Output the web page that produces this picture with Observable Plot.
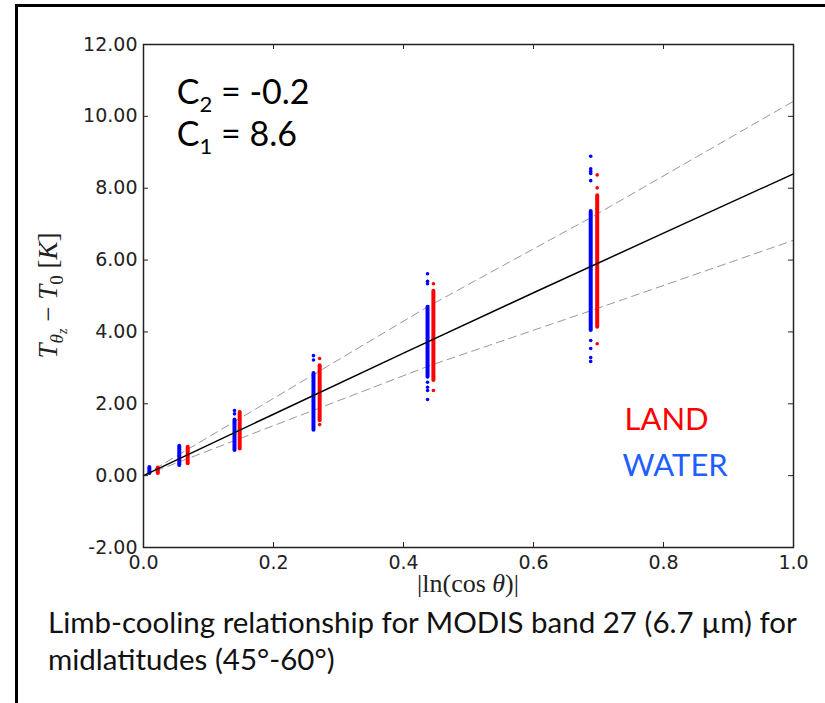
<!DOCTYPE html>
<html>
<head>
<meta charset="utf-8">
<script src="https://cdn.jsdelivr.net/npm/d3@7"></script>
<script src="https://cdn.jsdelivr.net/npm/@observablehq/plot@0.6"></script>
<style>
  html, body { margin: 0; padding: 0; background: #fff; }
  #wrap { position: relative; width: 825px; height: 703px; overflow: hidden; background: #fff; }
  #border { position: absolute; left: 15px; top: 4px; width: 1000px; height: 1000px; border-left: 3px solid #000; border-top: 3px solid #000; }
  #chart { position: absolute; left: 0; top: 0; }
  #caption { position: absolute; left: 48px; top: 603px; font-family: Lato, "Open Sans", sans-serif; font-size: 29.5px; line-height: 37px; color: #111; white-space: nowrap; }
</style>
</head>
<body>
<div id="wrap">
  <div id="border"></div>
  <div id="chart"></div>
  <div id="caption">Limb-cooling relationship for MODIS band 27 (6.7 µm) for<br>midlatitudes (45°-60°)</div>
</div>
<script>
// Tick values
const xTicks = [0.0, 0.2, 0.4, 0.6, 0.8, 1.0];
const yTicks = [-2, 0, 2, 4, 6, 8, 10, 12];

// Fit line (solid) read points
const fitX = [0, 0.2, 0.4, 0.6, 0.8, 1.0];
const fitY = [0, 1.71, 3.41, 5.09, 6.75, 8.4];
// Upper / lower dashed envelope read points
const upperX = [0, 0.44, 0.688, 1.0];
const upperY = [0, 4.73, 7.18, 10.42];
const lowerX = [0, 0.44, 0.688, 1.0];
const lowerY = [0, 3.06, 4.59, 6.55];

// WATER clusters: x, dense core low/high
const waterX  = [0.009, 0.055, 0.140, 0.2615, 0.437, 0.688];
const waterLo = [0.06, 0.28, 0.70, 1.26, 2.74, 4.04];
const waterHi = [0.23, 0.82, 1.55, 2.84, 4.69, 7.35];
// LAND clusters
const landX  = [0.022, 0.068, 0.148, 0.271, 0.446, 0.698];
const landLo = [0.06, 0.33, 0.74, 1.53, 2.65, 4.13];
const landHi = [0.21, 0.79, 1.76, 3.06, 5.13, 7.79];

// Outlier points (cluster index, value)
const waterOutCluster = [2, 2, 3, 3, 4, 4, 4, 4, 4, 4, 4, 5, 5, 5, 5, 5, 5, 5, 5, 5];
const waterOutY       = [1.81, 1.72, 3.34, 3.22, 5.62, 5.41, 5.34, 2.60, 2.46, 2.37, 2.12, 8.89, 8.54, 8.47, 8.41, 8.21, 3.76, 3.54, 3.29, 3.18];
const landOutCluster = [3, 3, 4, 4, 5, 5, 5];
const landOutY       = [3.26, 1.42, 5.34, 2.37, 8.37, 8.01, 3.67];

const fit = fitX.map((x, i) => ({x, y: fitY[i]}));
const upper = upperX.map((x, i) => ({x, y: upperY[i]}));
const lower = lowerX.map((x, i) => ({x, y: lowerY[i]}));
const water = waterX.map((x, i) => ({x, lo: waterLo[i], hi: waterHi[i]}));
const land = landX.map((x, i) => ({x, lo: landLo[i], hi: landHi[i]}));
const waterOut = waterOutCluster.map((c, i) => ({x: waterX[c], y: waterOutY[i]}));
const landOut = landOutCluster.map((c, i) => ({x: landX[c], y: landOutY[i]}));

const W = 825, H = 600, mL = 143, mR = 32, mT = 44, mB = 53;
const frameW = W - mL - mR, frameH = H - mT - mB;

const plot = Plot.plot({
  width: W, height: H,
  marginLeft: mL, marginRight: mR, marginTop: mT, marginBottom: mB,
  style: {fontFamily: "DejaVu Sans", fontSize: "19px", background: "transparent", overflow: "visible"},
  x: {domain: [0, 1]},
  y: {domain: [-2, 12]},
  marks: [
    Plot.line(upper, {x: "x", y: "y", stroke: "#999", strokeWidth: 1, strokeDasharray: "8,5"}),
    Plot.line(lower, {x: "x", y: "y", stroke: "#999", strokeWidth: 1, strokeDasharray: "8,5"}),
    Plot.ruleX(water, {x: "x", y1: "lo", y2: "hi", stroke: "#0000ff", strokeWidth: 4, strokeLinecap: "round"}),
    Plot.dot(waterOut, {x: "x", y: "y", r: 1.8, fill: "#0000ff"}),
    Plot.ruleX(land, {x: "x", y1: "lo", y2: "hi", stroke: "#ff0000", strokeWidth: 4, strokeLinecap: "round"}),
    Plot.dot(landOut, {x: "x", y: "y", r: 1.8, fill: "#ff0000"}),
    Plot.line(fit, {x: "x", y: "y", stroke: "#000", strokeWidth: 1.5}),
    // inward ticks, all four sides
    Plot.tickY(yTicks, {y: d => d, insetRight: frameW - 5, stroke: "#222"}),
    Plot.tickY(yTicks, {y: d => d, insetLeft: frameW - 5, stroke: "#222"}),
    Plot.tickX(xTicks, {x: d => d, insetTop: frameH - 5, stroke: "#222"}),
    Plot.tickX(xTicks, {x: d => d, insetBottom: frameH - 5, stroke: "#222"}),
    Plot.frame({stroke: "#222", strokeWidth: 1.5}),
    Plot.axisY({ticks: yTicks, tickSize: 0, tickPadding: 6, tickFormat: d => d.toFixed(2), label: null, fill: "#222", fontSize: 19}),
    Plot.axisX({ticks: xTicks, tickSize: 0, tickPadding: 8, tickFormat: d => d.toFixed(1), label: null, fill: "#222", fontSize: 19}),
    Plot.text(["LAND"], {x: 0.74, y: 1.55, text: d => d, textAnchor: "start", fill: "#ff0000", fontFamily: "Lato, 'Open Sans', sans-serif", fontSize: 31}),
    Plot.text(["WATER"], {x: 0.737, y: 0.28, text: d => d, textAnchor: "start", fill: "#1f5fff", fontFamily: "Lato, 'Open Sans', sans-serif", fontSize: 31})
  ]
});
document.getElementById("chart").appendChild(plot);

const sx = plot.scale("x"), sy = plot.scale("y");
const svg = d3.select(plot);

// C2 / C1 annotations
function cLabel(xv, yv, sub, rest) {
  const t = svg.append("text")
    .attr("x", sx.apply(xv)).attr("y", sy.apply(yv))
    .attr("text-anchor", "start")
    .attr("font-family", "Lato, 'Open Sans', sans-serif").attr("font-size", 34).attr("fill", "#000");
  t.append("tspan").text("C");
  t.append("tspan").attr("font-size", 22).attr("dy", 8).text(sub);
  t.append("tspan").attr("dy", -8).text(rest);
}
cLabel(0.052, 10.33, "2", " = -0.2");
cLabel(0.052, 9.16, "1", " = 8.6");

// y-axis label (math)
const yl = svg.append("text")
  .attr("transform", `translate(57,${(mT + H - mB) / 2}) rotate(-90)`)
  .attr("text-anchor", "middle")
  .attr("font-family", "'Liberation Serif', 'DejaVu Serif', serif")
  .attr("font-size", 27).attr("fill", "#222");
yl.append("tspan").attr("font-style", "italic").text("T");
yl.append("tspan").attr("font-style", "italic").attr("font-size", 19).attr("dy", 6).text("θ");
yl.append("tspan").attr("font-style", "italic").attr("font-size", 14).attr("dy", 4).text("z");
yl.append("tspan").attr("dy", -10).text(" − ");
yl.append("tspan").attr("font-style", "italic").text("T");
yl.append("tspan").attr("font-size", 19).attr("dy", 6).text("0");
yl.append("tspan").attr("dy", -6).text(" [");
yl.append("tspan").attr("font-style", "italic").text("K");
yl.append("tspan").text("]");

// x-axis label
const xl = svg.append("text")
  .attr("x", sx.apply(0.5)).attr("y", H - mB + 45)
  .attr("text-anchor", "middle")
  .attr("font-family", "'Liberation Serif', 'DejaVu Serif', serif")
  .attr("font-size", 26).attr("fill", "#222");
xl.append("tspan").text("|ln(cos ");
xl.append("tspan").attr("font-style", "italic").text("θ");
xl.append("tspan").text(")|");
</script>
</body>
</html>
